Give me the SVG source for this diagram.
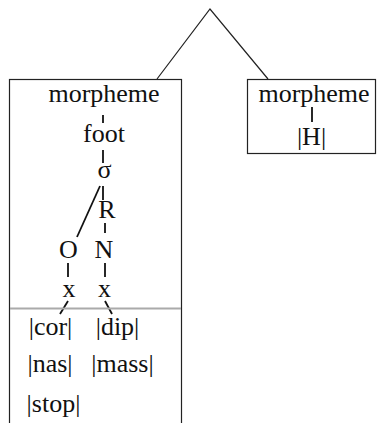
<svg xmlns="http://www.w3.org/2000/svg" width="377" height="423" viewBox="0 0 377 423">
<style>
text{font-family:"Liberation Serif","Times New Roman",serif;font-size:26px;fill:#111;text-anchor:middle}
.box{fill:none;stroke:#222;stroke-width:1.2}
.t{stroke:#111;stroke-width:1.8;fill:none}
.a{stroke:#222;stroke-width:1.2;fill:none}
</style>
<rect width="377" height="423" fill="#fff"/>
<g id="connectors">
<polyline class="a" points="157,79 210,9 268,79"/>
<line class="t" x1="103" y1="115" x2="103" y2="123"/>
<line class="t" x1="103" y1="150" x2="103" y2="163"/>
<line class="t" x1="103" y1="186" x2="103" y2="200"/>
<line class="t" x1="100" y1="186" x2="77" y2="237"/>
<line class="t" x1="105" y1="223" x2="105" y2="233"/>
<line class="t" x1="68" y1="263" x2="68" y2="277"/>
<line class="t" x1="105" y1="263" x2="105" y2="277"/>
<line class="t" x1="68" y1="301" x2="60" y2="314"/>
<line class="t" x1="105" y1="301" x2="112" y2="314"/>
<line class="t" x1="312" y1="107" x2="312" y2="122"/>
</g>
<g id="left-box">
<rect class="box" x="9.5" y="79.5" width="172" height="360"/>
<line x1="10" y1="308.5" x2="181" y2="308.5" stroke="#aaa" stroke-width="2.2"/>
<text x="104" y="102">morpheme</text>
<text x="104" y="142">foot</text>
<text x="104.5" y="178">σ</text>
<text x="107" y="218">R</text>
<text x="68.5" y="258">O</text>
<text x="104" y="258">N</text>
<text x="69" y="297">x</text>
<text x="104.5" y="297">x</text>
<text x="50.5" y="335">|cor|</text>
<text x="117.5" y="335">|dip|</text>
<text x="50" y="372">|nas|</text>
<text x="122.5" y="372">|mass|</text>
<text x="53.5" y="412">|stop|</text>
</g>
<g id="right-box">
<rect class="box" x="247.5" y="79.5" width="128" height="74"/>
<text x="314" y="102">morpheme</text>
<text x="311.5" y="145">|H|</text>
</g>
</svg>
